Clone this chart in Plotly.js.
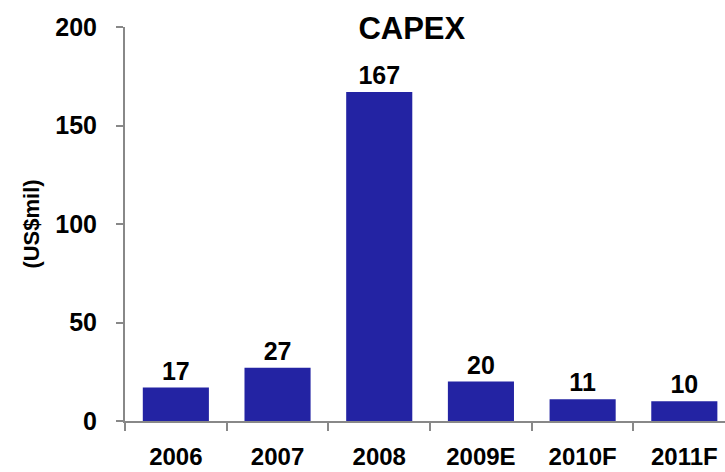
<!DOCTYPE html>
<html>
<head>
<meta charset="utf-8">
<script src="https://cdn.plot.ly/plotly-3.0.1.min.js"></script>
<style>html,body{margin:0;padding:0;background:#fff;}#chart{width:725px;height:472px;}</style>
</head>
<body>
<div id="chart"></div>
<script>
var categories = ["2006", "2007", "2008", "2009E", "2010F", "2011F"];
var capex = [17, 27, 167, 20, 11, 10];
var yTicks = [0, 50, 100, 150, 200];

var font = "Liberation Sans, Arial, sans-serif";
var trace = {
  type: "bar",
  x: categories,
  y: capex,
  text: capex.map(String),
  textposition: "outside",
  cliponaxis: false,
  constraintext: "none",
  textfont: {family: font, size: 25, color: "#000", weight: "bold"},
  marker: {color: "#2323A3", line: {width: 0}},
  width: 0.65,
  hoverinfo: "x+y"
};
var layout = {
  width: 725, height: 472,
  margin: {l: 125, r: 0, t: 27, b: 51},
  paper_bgcolor: "#fff", plot_bgcolor: "#fff",
  showlegend: false,
  title: {text: "<b>CAPEX</b>", font: {family: font, size: 31, color: "#000"},
          xref: "container", yref: "container", x: 0.568, y: 0.94, xanchor: "center", yanchor: "middle"},
  xaxis: {
    type: "category", range: [-0.5, 5.4],
    showline: true, linecolor: "#888", linewidth: 2,
    ticks: "outside", tickson: "boundaries", ticklen: 8, tickwidth: 2, tickcolor: "#888",
    tickfont: {family: font, size: 24, color: "#000", weight: "bold"},
    ticklabelstandoff: 13,
    showgrid: false, zeroline: false, fixedrange: true
  },
  yaxis: {
    range: [0, 200], tickvals: yTicks, ticktext: yTicks.map(String),
    showline: true, linecolor: "#888", linewidth: 2,
    ticks: "outside", ticklen: 7, tickwidth: 2, tickcolor: "#888",
    tickfont: {family: font, size: 25, color: "#000", weight: "bold"},
    ticklabelstandoff: 14,
    showgrid: false, zeroline: false, fixedrange: true,
    title: {text: "<b>(US$mil)</b>", font: {family: font, size: 22, color: "#000"}, standoff: 10}
  },
  bargap: 0.35
};
Plotly.newPlot("chart", [trace], layout, {displayModeBar: false, staticPlot: true});
</script>
</body>
</html>
